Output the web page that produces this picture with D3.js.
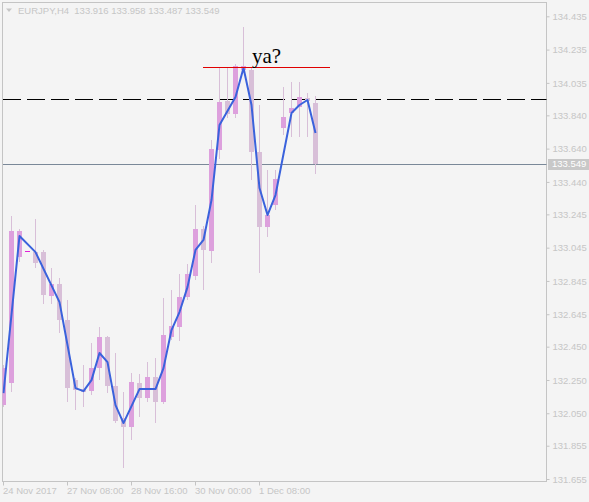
<!DOCTYPE html>
<html>
<head>
<meta charset="utf-8">
<script src="https://cdn.jsdelivr.net/npm/d3@7"></script>
<style>
  body { margin: 0; background: #f4f4f4; }
  svg { display: block; }
  .lbl { font: 9.5px "Liberation Sans", Arial, sans-serif; fill: #c6c6c6; }
</style>
</head>
<body>
<svg width="589" height="502"></svg>
<script>
// EURJPY H4 candles (one entry per bar)
var openP  = [132.099,132.231,132.988,133.025,133.018,133.018,132.754,132.826,132.610,132.249,
              132.195,132.183,132.321,132.508,132.213,132.021,131.967,132.231,132.141,132.267,
              132.117,132.508,132.568,132.748,132.874,133.157,133.025,133.632,133.926,133.848,
              134.112,134.112,133.619,133.169,133.301,133.764,133.854,133.890,133.944,133.916];
var highP  = [132.339,133.235,133.157,133.025,133.217,133.031,132.922,132.862,132.730,132.261,
              132.339,132.472,132.568,132.514,132.412,132.177,132.291,132.285,132.357,132.381,
              132.742,132.790,132.886,132.946,133.301,133.175,133.692,134.130,134.130,134.148,
              134.371,134.130,133.902,133.511,133.511,134.010,134.040,134.040,133.974,133.958];
var lowP   = [132.087,132.177,132.958,133.025,132.922,132.706,132.706,132.532,132.117,132.069,
              132.087,132.159,132.249,132.171,131.991,131.720,131.889,132.027,132.117,131.991,
              132.105,132.490,132.484,132.730,132.850,132.790,132.952,133.577,133.824,133.824,
              134.100,133.451,132.892,133.109,133.271,133.722,133.710,133.710,133.710,133.487];
var closeP = [132.321,133.145,133.145,133.025,132.952,132.760,132.826,132.610,132.201,132.189,
              132.177,132.321,132.508,132.213,132.003,131.967,132.237,132.141,132.267,132.117,
              132.520,132.574,132.748,132.886,133.157,133.031,133.638,133.920,133.848,134.136,
              134.136,133.619,133.169,133.241,133.457,133.830,133.884,133.950,133.926,133.549];

// blue line vertices (bar index, price)
var lineBars = [0,2,4,7,8,9,10,11,12,13,14,15,17,19,20,21,22,23,24,25,26,27,29,30,31,32,33,34,36,37,38,39];
var lineVals = [132.171,133.115,133.018,132.718,132.460,132.201,132.183,132.249,132.412,132.357,
                132.099,131.991,132.195,132.195,132.321,132.550,132.658,132.808,133.031,133.091,
                133.331,133.782,133.950,134.124,133.902,133.403,133.241,133.361,133.854,133.902,
                133.932,133.734];

var yTicks = [134.435,134.235,134.035,133.840,133.640,133.440,133.245,133.045,
              132.845,132.645,132.450,132.250,132.050,131.855,131.655];
var xTickBars = [0, 8, 16, 24, 32];
var xTickLabels = ["24 Nov 2017", "27 Nov 08:00", "28 Nov 16:00", "30 Nov 00:00", "1 Dec 08:00"];

var header = "EURJPY,H4  133.916 133.958 133.487 133.549";
var lastPrice = 133.549;
var dashLevel = 133.941;
var redLevel = 134.129, redFrom = 24.9, redTo = 40.8;
var note = "ya?", noteBar = 31.06, noteLevel = 134.154;

var svg = d3.select("svg"),
    plot = {left: 2.5, top: 2.5, right: 546.5, bottom: 481.5};

var x = d3.scaleLinear().domain([0, 68]).range([3.5, 547.5]),
    y = d3.scaleLinear().domain([131.655, 134.435]).range([479, 16.3]);

svg.append("defs").append("clipPath").attr("id", "clip")
  .append("rect")
    .attr("x", plot.left).attr("y", plot.top)
    .attr("width", plot.right - plot.left).attr("height", plot.bottom - plot.top);

// frame
svg.append("rect")
    .attr("x", plot.left).attr("y", plot.top)
    .attr("width", plot.right - plot.left).attr("height", plot.bottom - plot.top)
    .attr("fill", "none").attr("stroke", "#c4c4c4")
    .attr("shape-rendering", "crispEdges");

var g = svg.append("g").attr("clip-path", "url(#clip)");

// level lines
g.append("line")
    .attr("x1", plot.left).attr("x2", plot.right)
    .attr("y1", Math.round(y(dashLevel)) + 0.5).attr("y2", Math.round(y(dashLevel)) + 0.5)
    .attr("stroke", "#000").attr("stroke-dasharray", "18,6")
    .attr("stroke-dashoffset", -0.5)
    .attr("shape-rendering", "crispEdges");

g.append("line")
    .attr("x1", plot.left).attr("x2", plot.right)
    .attr("y1", Math.round(y(lastPrice)) + 0.5).attr("y2", Math.round(y(lastPrice)) + 0.5)
    .attr("stroke", "#7a8898")
    .attr("shape-rendering", "crispEdges");

// candles
var bars = d3.range(openP.length).map(function (i) {
    return {i: i, o: openP[i], h: highP[i], l: lowP[i], c: closeP[i]};
});

var candle = g.selectAll(".candle")
    .data(bars)
    .enter().append("g")
    .attr("class", "candle")
    .attr("shape-rendering", "crispEdges");

candle.filter(function (d) { return d.h > d.l; })
  .append("line")
    .attr("x1", function (d) { return Math.floor(x(d.i)) + 0.5; })
    .attr("x2", function (d) { return Math.floor(x(d.i)) + 0.5; })
    .attr("y1", function (d) { return y(d.h); })
    .attr("y2", function (d) { return y(d.l); })
    .attr("stroke", "#d8bfd8");

candle.append("rect")
    .attr("x", function (d) { return Math.floor(x(d.i)) - 2; })
    .attr("width", 5)
    .attr("y", function (d) { return y(Math.max(d.o, d.c)); })
    .attr("height", function (d) { return Math.max(1.5, Math.abs(y(d.o) - y(d.c))); })
    .attr("fill", function (d) {
        if (d.o === d.c) return "#e020d8";
        return d.c > d.o ? "#dda0dd" : "#d8bfd8";
    });

// blue line
var line = d3.line()
    .x(function (d) { return x(d[0]); })
    .y(function (d) { return y(d[1]); });

g.append("path")
    .datum(d3.zip(lineBars, lineVals))
    .attr("d", line)
    .attr("fill", "none")
    .attr("stroke", "#3a62dc")
    .attr("stroke-width", 2)
    .attr("stroke-linejoin", "round");

// red trendline + note
svg.append("line")
    .attr("x1", x(redFrom)).attr("x2", x(redTo))
    .attr("y1", Math.round(y(redLevel)) + 0.5).attr("y2", Math.round(y(redLevel)) + 0.5)
    .attr("stroke", "#e00000")
    .attr("shape-rendering", "crispEdges");

svg.append("text")
    .attr("x", x(noteBar)).attr("y", y(noteLevel))
    .style("font", "21px 'Liberation Serif', 'Times New Roman', serif")
    .attr("fill", "#000")
    .text(note);

// y axis
var yAxis = svg.append("g")
    .attr("transform", "translate(" + plot.right + ",0)")
    .call(d3.axisRight(y).tickValues(yTicks).tickSize(3).tickPadding(3)
        .tickFormat(function (d) { return d.toFixed(3); }));
yAxis.select(".domain").remove();
yAxis.selectAll("line").attr("stroke", "#c4c4c4");
yAxis.selectAll("text").attr("class", "lbl").attr("dy", "0.34em");

// current price label
var py = y(lastPrice);
svg.append("rect")
    .attr("x", 548).attr("y", Math.round(py) - 5)
    .attr("width", 41).attr("height", 11)
    .attr("fill", "#c8c8c8");
svg.append("text")
    .attr("class", "lbl")
    .attr("x", 552).attr("y", py).attr("dy", "0.36em")
    .style("fill", "#fff")
    .text(lastPrice.toFixed(3));

// x axis
var xAxis = svg.append("g")
    .attr("transform", "translate(0," + plot.bottom + ")")
    .call(d3.axisBottom(x).tickValues(xTickBars).tickSize(4)
        .tickFormat(function (d, i) { return xTickLabels[i]; }));
xAxis.select(".domain").remove();
xAxis.selectAll("line").attr("stroke", "#c4c4c4")
    .attr("transform", "translate(-0.5,0)");
xAxis.selectAll("text").attr("class", "lbl")
    .attr("text-anchor", "start").attr("x", -1).attr("y", 6).attr("dy", "0.71em");

// header
svg.append("path")
    .attr("d", "M6,8.5 L12,8.5 L9,12 Z")
    .attr("fill", "#c6c6c6");
svg.append("text")
    .attr("class", "lbl")
    .attr("x", 18).attr("y", 14)
    .attr("xml:space", "preserve")
    .style("white-space", "pre")
    .text(header);
</script>
</body>
</html>
